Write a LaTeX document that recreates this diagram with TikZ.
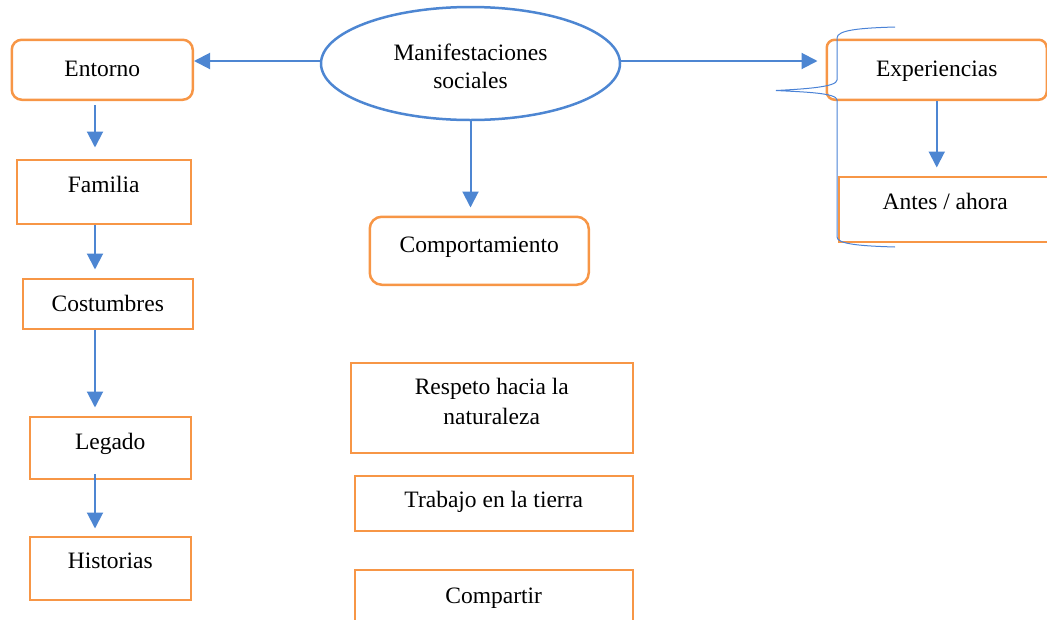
\documentclass[tikz,border=0pt]{standalone}
\usepackage{fontspec}
\setmainfont{Liberation Serif}
\usetikzlibrary{arrows.meta,shapes.geometric}
\definecolor{boxorange}{HTML}{F79646}
\definecolor{linkblue}{HTML}{4D86D2}
\definecolor{braceblue}{HTML}{4A82D6}
\tikzset{
  every node/.style={font=\fontsize{23.5}{30.3}\selectfont, inner sep=0pt, text height=18pt},
  sqbox/.style={draw=boxorange, line width=2.5pt, anchor=north west, text depth=#1},
  rbox/.style={sqbox=#1, rounded corners=10pt},
  arr/.style={draw=linkblue, line width=2pt, -{Triangle[width=16pt,length=16pt]}},
  bracestyle/.style={draw=braceblue, line width=1pt}
}
\begin{document}
\begin{tikzpicture}[x=1pt,y=-1pt]
\useasboundingbox (0,0) rectangle (1047,619);
\clip (0,0) rectangle (1047,619);
% central ellipse
\node[ellipse, draw=linkblue, line width=2.5pt, minimum width=299pt, minimum height=113pt, align=center, text height=60pt, text depth=10.4pt] (ell) at (470.5,63.5) {Manifestaciones\\[-2pt]sociales};
% left column
\node[rbox=5pt, minimum width=181pt, minimum height=60pt] (entorno) at (10.5,38.5) {Entorno};
\node[sqbox=15.6pt, minimum width=174pt, minimum height=64pt] (familia) at (15.5,158.5) {Familia};
\node[sqbox=1.6pt, minimum width=170pt, minimum height=50pt] (costumbres) at (21.5,277.5) {Costumbres};
\node[sqbox=15pt, minimum width=161pt, minimum height=62pt] (legado) at (28.5,415.5) {Legado};
\node[sqbox=16.6pt, minimum width=161pt, minimum height=63pt] (historias) at (28.5,535.5) {Historias};
% middle column
\node[rbox=13.6pt, rounded corners=12pt, minimum width=219pt, minimum height=68pt] (comport) at (368.5,215.5) {Comportamiento};
\node[sqbox=16.4pt, text height=50pt, minimum width=282pt, minimum height=90pt, align=center] (respeto) at (349.5,361.5) {Respeto hacia la\\naturaleza};
\node[sqbox=8.6pt, minimum width=278pt, minimum height=55pt] (trabajo) at (353.5,474.5) {Trabajo en la tierra};
\node[sqbox=6pt, minimum width=278pt, minimum height=55pt] (compartir) at (353.5,568.5) {Compartir};
% right column
\node[rbox=5pt, rounded corners=8pt, minimum width=220pt, minimum height=60pt] (exper) at (825.5,38.5) {Experiencias};
\node[sqbox=18pt, minimum width=213pt, minimum height=65pt] (antes) at (837.5,175.5) {Antes / ahora};
% helper coordinates
\coordinate (yl) at (0,61);
\coordinate (xc) at (95,0);
% connectors
\draw[arr] (ell.west |- yl) -- (entorno.east |- yl);
\draw[arr, shorten >=8pt] (ell.east |- yl) -- (exper.west |- yl);
\draw[arr, shorten >=8pt] (ell.south) -- (ell.south |- comport.north);
\draw[arr, shorten <=4pt, shorten >=11pt] (entorno.south -| xc) -- (familia.north -| xc);
\draw[arr, shorten >=8pt] (familia.south -| xc) -- (costumbres.north -| xc);
\draw[arr, shorten >=8pt] (costumbres.south -| xc) -- (legado.north -| xc);
\draw[arr, shorten <=-6pt, shorten >=7pt] (legado.south -| xc) -- (historias.north -| xc);
\draw[arr, shorten >=8pt] (exper.south) -- (exper.south |- antes.north);
% brace
\draw[bracestyle] (895,27) .. controls (860,28) and (837,30) .. (837,38) -- (837,80)
  .. controls (837,87) and (805,89) .. (776,90.5)
  .. controls (805,92) and (837,93) .. (837,100) -- (837,237)
  .. controls (837,244) and (860,246) .. (895,247);
\end{tikzpicture}
\end{document}
